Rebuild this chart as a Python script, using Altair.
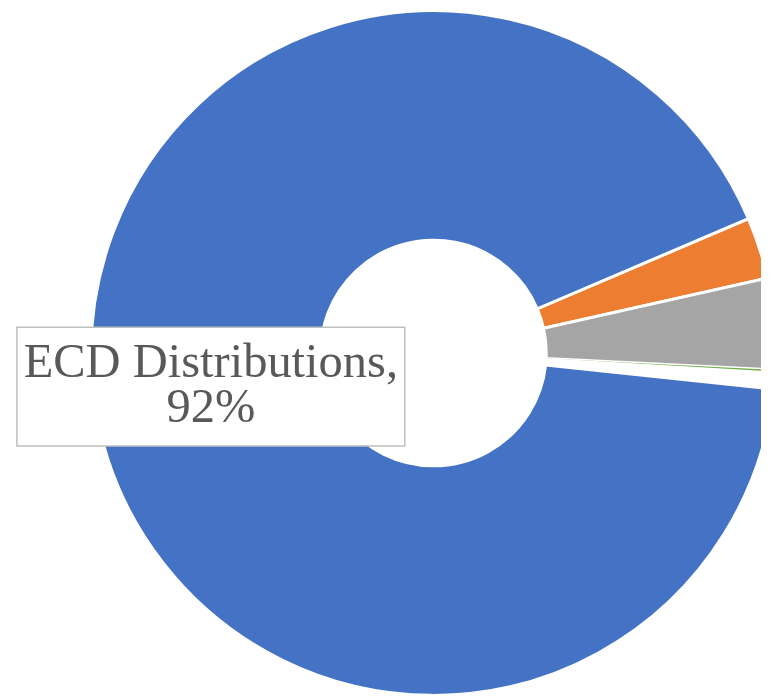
import altair as alt
import pandas as pd

categories = ["Orange part", "Gray part", "Green part", "Blank", "ECD Distributions"]
values = [2.9, 4.3, 0.15, 0.75, 91.9]
colors = ["#ED7D31", "#A5A5A5", "#70AD47", "#FFFFFF", "#4472C4"]
stroke_widths = [3, 3, 0, 3, 3]
order = [0, 1, 2, 3, 4]

label_lines = ["ECD Distributions,", "92%"]

df = pd.DataFrame({"category": categories, "value": values, "order": order,
                   "sw": stroke_widths})

start = 66.9 * 3.141592653589793 / 180.0
W, H = 761, 690
cx, cy = 430, 345

arc = alt.Chart(df).mark_arc(
    outerRadius=346, innerRadius=114, stroke="white"
).encode(
    theta=alt.Theta("value:Q", stack=True,
                    scale=alt.Scale(range=[start, start + 2 * 3.141592653589793])),
    color=alt.Color("category:N", scale=alt.Scale(domain=categories, range=colors), legend=None),
    strokeWidth=alt.StrokeWidth("sw:Q", scale=None, legend=None),
    order=alt.Order("order:Q"),
    x=alt.value(cx),
    y=alt.value(cy),
)

box = alt.Chart(pd.DataFrame({"a": [0]})).mark_rect(
    fill="white", stroke="#BFBFBF", strokeWidth=1.5
).encode(
    x=alt.value(9), x2=alt.value(401), y=alt.value(319), y2=alt.value(439)
)

text = alt.Chart(pd.DataFrame({"t": [label_lines]})).mark_text(
    font="Liberation Serif", fontSize=49, color="#595959", align="center",
    baseline="alphabetic", lineHeight=46
).encode(
    text="t", x=alt.value(205), y=alt.value(369)
)

chart = alt.layer(arc, box, text).properties(
    width=W, height=H, padding=0, autosize=alt.AutoSizeParams(type="none")
).configure_view(stroke=None)

chart.save("out.html", embed_options={"renderer": "svg", "actions": False})
